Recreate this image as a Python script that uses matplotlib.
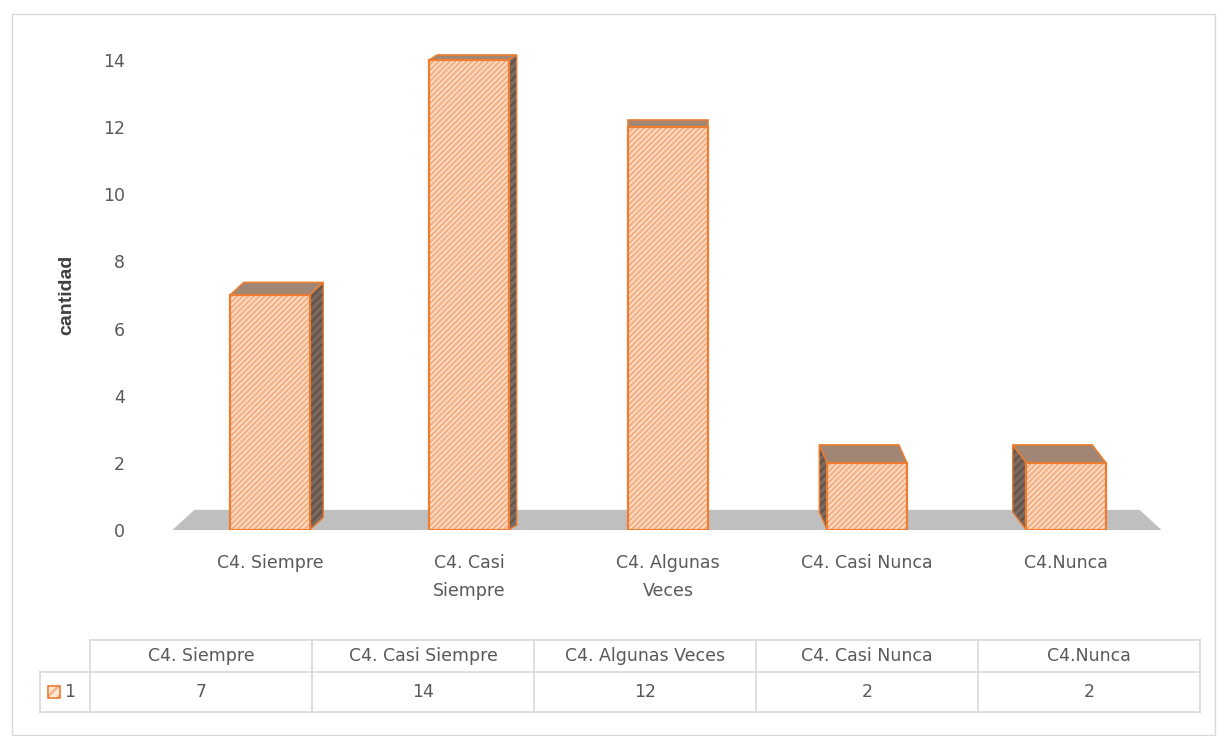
import matplotlib
matplotlib.use('Agg')
import matplotlib.pyplot as plt
from matplotlib.patches import Polygon, Rectangle
from matplotlib.lines import Line2D

categorias = ['C4. Siempre', 'C4. Casi Siempre', 'C4. Algunas Veces', 'C4. Casi Nunca', 'C4.Nunca']
etiquetas_eje = ['C4. Siempre', 'C4. Casi\nSiempre', 'C4. Algunas\nVeces', 'C4. Casi Nunca', 'C4.Nunca']
cantidad = [7, 14, 12, 2, 2]
serie = '1'
yticks = [0, 2, 4, 6, 8, 10, 12, 14]

plt.rcParams['font.family'] = ['DejaVu Sans']
plt.rcParams['hatch.linewidth'] = 1.8
gris = '#595959'
naranja = '#ED7D31'
fondo = '#FDE6D6'
rayas = '#F5B287'
fs = 12.5

W, H = 1219, 736
fig = plt.figure(figsize=(W / 100, H / 100), dpi=100)


def fx(px):
    return px / W


def fy(py):
    return 1 - py / H


# borde del grafico
fig.add_artist(Rectangle((fx(12), fy(735)), fx(1215) - fx(12), fy(14) - fy(735),
                         transform=fig.transFigure, fill=False, edgecolor='#D9D9D9', lw=1))

# ejes: centro categoria 0 en x=270px, paso 199px; y=0 en 530px, 33.57 px por unidad
paso, upy = 199.0, 33.57
x0, x1 = -0.6, 4.6
y0, y1 = 0, 14.5
left = 270 + x0 * paso
right = 270 + x1 * paso
top = 530 - y1 * upy
ax = fig.add_axes([fx(left), fy(530), fx(right) - fx(left), fy(top) - fy(530)])
ax.set_xlim(x0, x1)
ax.set_ylim(y0, y1)
for s in ax.spines.values():
    s.set_visible(False)

# piso gris
piso_h = 0.6
ax.add_patch(Polygon([(-0.49, 0), (-0.38, piso_h), (4.37, piso_h), (4.48, 0)],
                     closed=True, facecolor='#BFBFBF', edgecolor='none', zorder=1))

ancho = 0.4
for i, v in enumerate(cantidad):
    xl, xr = i - ancho / 2, i + ancho / 2
    d = i - 2
    dx = -0.028 * d - 0.012 * (1 if d > 0 else -1 if d < 0 else 0)
    dy = 0.15 + (14 - v) * 0.032
    # cara superior
    tapa = [(xl, v), (xr, v), (xr + dx, v + dy), (xl + dx, v + dy)]
    ax.add_patch(Polygon(tapa, closed=True, facecolor='#A08674', edgecolor=naranja, lw=1.2, zorder=2))
    # cara lateral
    if dx > 0.001:
        lado = [(xr, 0), (xr, v), (xr + dx, v + dy), (xr + dx, dy)]
    elif dx < -0.001:
        lado = [(xl, 0), (xl, v), (xl + dx, v + dy), (xl + dx, dy)]
    else:
        lado = None
    if lado is not None:
        ax.add_patch(Polygon(lado, closed=True, facecolor='#7A6A60', edgecolor='#65554B',
                             hatch='////', lw=0, zorder=2))
        ax.add_patch(Polygon(lado, closed=True, fill=False, edgecolor=naranja, lw=1.0, zorder=2))
    # cara frontal con rayas
    ax.add_patch(Rectangle((xl, 0), ancho, v, facecolor=fondo, edgecolor=rayas,
                           hatch='//////', lw=0, zorder=3))
    ax.add_patch(Rectangle((xl, 0), ancho, v, fill=False, edgecolor=naranja, lw=1.6, zorder=4))

ax.set_yticks(yticks)
ax.set_yticklabels([str(t) for t in yticks])
ax.tick_params(axis='y', length=0, pad=18.5, labelsize=fs, labelcolor=gris)
ax.set_xticks(range(len(cantidad)))
ax.set_xticklabels(etiquetas_eje, linespacing=1.75, va='top')
ax.tick_params(axis='x', length=0, pad=17, labelsize=fs, labelcolor=gris)
ax.set_ylabel('cantidad', fontsize=14, fontweight='bold', color='#404040',
              family=['Liberation Sans Narrow', 'Liberation Sans', 'DejaVu Sans'])
ax.yaxis.set_label_coords((75 - left) / (right - left), (530 - 295) / (530 - top))

# tabla de datos
tx0, tcol0, tx1 = 40, 90, 1200
ty0, ty1, ty2 = 640, 672, 712
ncol = len(categorias)
cw = (tx1 - tcol0) / ncol
lc = '#D9D9D9'


def linea(xa, ya, xb, yb):
    fig.add_artist(Line2D([fx(xa), fx(xb)], [fy(ya), fy(yb)], transform=fig.transFigure,
                          color=lc, lw=1.2))


linea(tcol0, ty0, tx1, ty0)
linea(tx0, ty1, tx1, ty1)
linea(tx0, ty2, tx1, ty2)
linea(tx0, ty1, tx0, ty2)
for k in range(ncol + 1):
    linea(tcol0 + k * cw, ty0, tcol0 + k * cw, ty2)
for k, (c, v) in enumerate(zip(categorias, cantidad)):
    cx = tcol0 + (k + 0.5) * cw
    fig.text(fx(cx), fy((ty0 + ty1) / 2), c, ha='center', va='center', fontsize=fs, color=gris)
    fig.text(fx(cx), fy((ty1 + ty2) / 2), str(v), ha='center', va='center', fontsize=fs, color=gris)

# leyenda en la tabla
fig.add_artist(Rectangle((fx(48), fy(698)), fx(12), fy(686) - fy(698), transform=fig.transFigure,
                         facecolor=fondo, edgecolor=rayas, hatch='///', lw=0))
fig.add_artist(Rectangle((fx(48), fy(698)), fx(12), fy(686) - fy(698), transform=fig.transFigure,
                         fill=False, edgecolor=naranja, lw=1.2))
fig.text(fx(64), fy(692), serie, ha='left', va='center', fontsize=fs, color=gris)

fig.savefig('out.png', dpi=100)
